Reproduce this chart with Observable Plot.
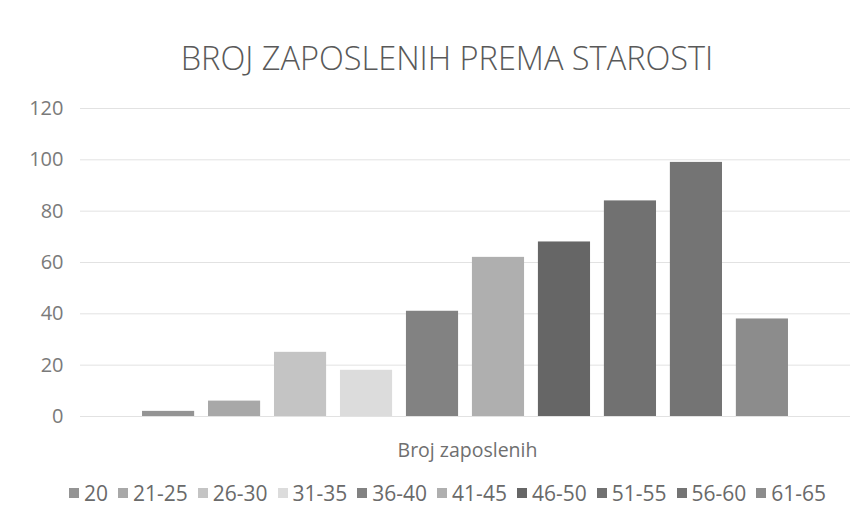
<!DOCTYPE html>
<html>
<head>
<meta charset="utf-8">
<script src="https://cdn.jsdelivr.net/npm/d3@7"></script>
<script src="https://cdn.jsdelivr.net/npm/@observablehq/plot@0.6"></script>
<style>
  html, body { margin: 0; padding: 0; background: #fff; }
  body { width: 862px; height: 528px; overflow: hidden; font-family: "Open Sans", sans-serif; }
  #title { height: 90px; box-sizing: border-box; padding-top: 38px; padding-left: 32px; text-align: center;
           font-size: 32.5px; line-height: 40px; color: #595959; font-weight: 300; white-space: nowrap; }
  #chart { height: 380px; }
  #chart svg { display: block; }
  #legend { height: 58px; box-sizing: border-box; padding-top: 10px; padding-left: 33px; display: flex;
            justify-content: center; align-items: flex-start; line-height: 26px; font-size: 21px; color: #6a6a6a; white-space: nowrap; }
  #legend .item { display: flex; align-items: center; margin: 0 5px; height: 26px; }
  #legend .sw { width: 10px; height: 10px; margin-right: 5px; display: inline-block; }
</style>
</head>
<body>
<div id="title"></div>
<div id="chart"></div>
<div id="legend"></div>
<script>
const titleText = "BROJ ZAPOSLENIH PREMA STAROSTI";
const xTitle = "Broj zaposlenih";
const ages = ["20", "21-25", "26-30", "31-35", "36-40", "41-45", "46-50", "51-55", "56-60", "61-65"];
const counts = [2, 6, 25, 18, 41, 62, 68, 84, 99, 38];
const yTicks = [0, 20, 40, 60, 80, 100, 120];
const colors = ["#949494", "#a8a8a8", "#c4c4c4", "#dcdcdc", "#828282", "#afafaf", "#666666", "#717171", "#747474", "#8c8c8c"];

document.getElementById("title").textContent = titleText;

const data = ages.map((a, i) => ({age: a, count: counts[i]}));

const chart = Plot.plot({
  width: 862,
  height: 380,
  marginLeft: 80,
  marginRight: 12,
  marginTop: 18,
  marginBottom: 54,
  style: {fontFamily: '"Open Sans", sans-serif', fontSize: "20px", color: "#7a7a7a", background: "transparent", overflow: "visible"},
  x: {domain: ages, paddingInner: 0.21, paddingOuter: 0.94, round: false, axis: null},
  y: {domain: [0, 120], ticks: yTicks, tickSize: 0, tickPadding: 17, label: null},
  color: {domain: ages, range: colors},
  marks: [
    Plot.ruleY(yTicks, {stroke: "#e2e2e2", strokeWidth: 1}),
    Plot.barY(data, {x: "age", y: "count", fill: "age"}),
    Plot.text([xTitle], {frameAnchor: "bottom", lineAnchor: "middle", dy: 34, dx: 2, text: d => d, fontSize: 19.5, fill: "#6f6f6f"})
  ]
});
document.getElementById("chart").appendChild(chart);

const legend = d3.select("#legend");
ages.forEach((a, i) => {
  const item = legend.append("span").attr("class", "item");
  item.append("span").attr("class", "sw").style("background", colors[i]);
  item.append("span").text(a);
});
</script>
</body>
</html>
